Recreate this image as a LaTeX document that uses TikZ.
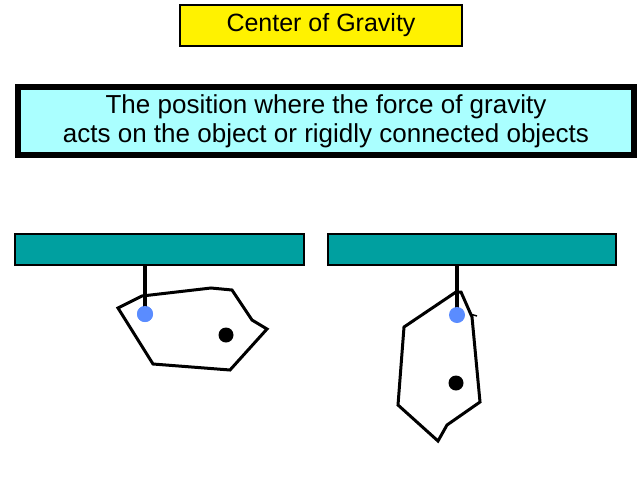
\documentclass[tikz,border=0pt]{standalone}
\usepackage{fontspec}
\setmainfont{Liberation Sans}
\usetikzlibrary{patterns}
\definecolor{teal1}{RGB}{0,160,160}
\definecolor{cyan1}{RGB}{170,255,255}
\definecolor{blue1}{RGB}{90,140,255}
\tikzset{
  bar/.style={draw=black,line width=2pt,fill=teal1},
  obj/.style={draw=black,line width=3pt,line join=miter},
  stick/.style={line width=4pt},
  pivot/.style={circle,fill=blue1,minimum size=16pt,inner sep=0pt},
  cg/.style={circle,fill=black,minimum size=15pt,inner sep=0pt}
}
\begin{document}
\begin{tikzpicture}[x=1pt,y=-1pt]
\useasboundingbox (0,0) rectangle (640,480);
\fill[white] (0,0) rectangle (640,480);
\node[draw=black,line width=1.5pt,fill=yellow,minimum width=282pt,minimum height=41pt,font=\fontsize{25}{28}\selectfont] (title) at (321,25.5) {Center of Gravity};
\node[draw=black,line width=6pt,fill=cyan1,minimum width=616pt,minimum height=68pt,inner sep=0pt,align=center,font=\fontsize{26}{29}\selectfont] (def) at (326,121) {The position where the force of gravity\\acts on the object or rigidly connected objects};
% left
\node[bar,minimum width=289pt,minimum height=31pt,inner sep=0pt] (barL) at (159.5,249.5) {};
\draw[obj] (118,308) -- (142,296) -- (211,288) -- (232,290) -- (252,320) -- (267,329) -- (230,370) -- (153,364) -- cycle;
\node[pivot] (pL) at (145,314) {};
\draw[stick] (barL.south -| pL) -- (pL.center);
\node[pivot] at (145,314) {};
\node[cg] (cL) at (226,335) {};
% right
\node[bar,minimum width=288pt,minimum height=31pt,inner sep=0pt] (barR) at (472,249.5) {};
\draw[obj] (456,292) -- (404,327) -- (398,405) -- (438,441) -- (447,425) -- (480,402) -- (472,317) -- (461,292) -- cycle;
\draw[line width=1.5pt] (470,314) -- (477,316);
\coordinate (pR) at (457,315);
\draw[stick] (barR.south -| pR) -- (pR);
\node[pivot] (pivR) at (pR) {};
\node[cg] (cR) at (456,383) {};
\end{tikzpicture}
\end{document}
